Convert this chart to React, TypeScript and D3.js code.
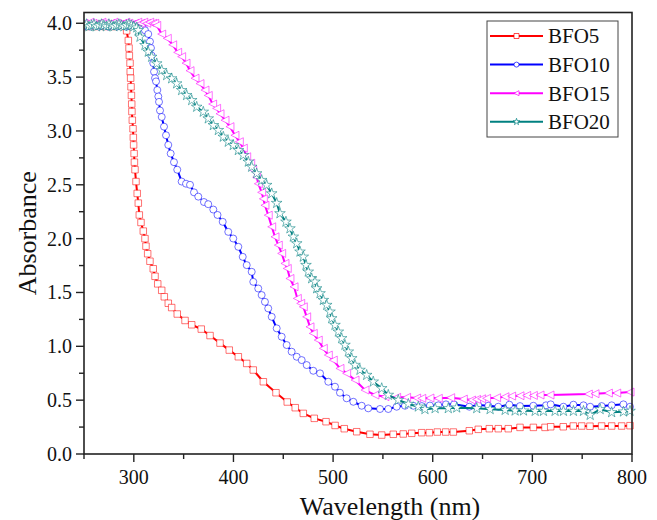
import React from 'react';
import * as d3 from 'd3';

// wavelength (nm), absorbance
const bfo5: [number, number][] = [
  [250, 3.98], [253, 3.97], [256, 3.99], [259, 3.98], [262, 3.97], [265, 3.99], [268, 3.98], [271, 3.97],
  [274, 3.99], [277, 3.98], [280, 3.97], [283, 3.98], [286, 3.99], [289, 3.98], [291, 3.97],
  [292.8, 3.93], [294.5, 3.84], [295.2, 3.77], [295.5, 3.7], [296.2, 3.63], [296.4, 3.55], [296.8, 3.49],
  [297.2, 3.41], [297.6, 3.33], [297.9, 3.25], [298.1, 3.18], [298.5, 3.1], [299.2, 3.02], [299.5, 2.94],
  [299.8, 2.87], [300.3, 2.79], [300.6, 2.71], [301.2, 2.64], [302.2, 2.53], [303.4, 2.42], [304.5, 2.33],
  [305.5, 2.22], [307.2, 2.15], [309.5, 2.07], [311.2, 2.0], [312.2, 1.93], [313.9, 1.86], [316.2, 1.79],
  [319.5, 1.72], [321.3, 1.65], [324, 1.58], [328, 1.52], [330.6, 1.46], [334.6, 1.4], [338, 1.36],
  [343.6, 1.3], [351.4, 1.24], [358.1, 1.2], [367.7, 1.16], [376.5, 1.1], [386.5, 1.03], [395.8, 0.965],
  [404.9, 0.903], [413.3, 0.841], [419.9, 0.78], [430, 0.671], [442.7, 0.569], [454, 0.483], [462, 0.43],
  [470.1, 0.377], [481.1, 0.331], [492.9, 0.3], [502, 0.265], [511.2, 0.235], [523.7, 0.207], [537, 0.183],
  [548.8, 0.176], [560.4, 0.183], [570.4, 0.186], [578.9, 0.192], [588.9, 0.198], [596.6, 0.198],
  [604.6, 0.204], [613, 0.204], [620.7, 0.204], [636.7, 0.216], [645.7, 0.229], [656.8, 0.235],
  [665.8, 0.235], [675.8, 0.235], [687.6, 0.247], [701, 0.247], [712.7, 0.247], [718.4, 0.253],
  [731, 0.253], [741.1, 0.26], [749.5, 0.26], [757.8, 0.258], [769.5, 0.26], [779.6, 0.26],
  [789.6, 0.26], [798, 0.263],
];

const bfo10: [number, number][] = [
  [250, 3.97], [253, 3.98], [256, 3.97], [259, 3.99], [262, 3.98], [265, 3.97], [268, 3.98], [271, 3.99],
  [274, 3.97], [277, 3.98], [280, 3.98], [283, 3.97], [286, 3.99], [289, 3.98], [292, 3.97], [295, 3.98],
  [298, 3.99], [301, 3.98], [304, 3.97], [307, 3.97], [309, 3.96],
  [311.2, 3.935], [314.5, 3.9], [316.2, 3.83], [317.2, 3.77], [317.9, 3.7], [319.5, 3.63], [320.3, 3.55],
  [321.3, 3.49], [322.3, 3.46], [323.6, 3.38], [324.6, 3.32], [325.3, 3.27], [326.3, 3.19], [328, 3.13],
  [330.3, 3.04], [332.3, 2.96], [334.6, 2.87], [337, 2.79], [340.3, 2.71], [343.6, 2.64], [348, 2.53],
  [352.4, 2.51], [356.4, 2.5], [360.4, 2.43], [364.7, 2.39], [370.4, 2.34], [374.7, 2.32], [379.8, 2.27],
  [384, 2.22], [389.2, 2.156], [394.8, 2.063], [399.8, 2.001], [404.9, 1.924], [409.3, 1.831],
  [413.3, 1.754], [418.3, 1.692], [419.9, 1.599], [424.9, 1.537], [428.3, 1.476], [431.6, 1.413],
  [434.9, 1.352], [438.4, 1.274], [443.4, 1.167], [448.4, 1.089], [453.4, 1.012], [458.4, 0.95],
  [463.5, 0.903], [468.5, 0.872], [473.5, 0.826], [480.1, 0.773], [486.9, 0.749], [495.2, 0.671],
  [501.9, 0.625], [506.9, 0.569], [513.6, 0.517], [520.3, 0.485], [528.7, 0.448], [535.3, 0.424],
  [547.1, 0.418], [555.4, 0.418], [563.8, 0.439], [572.2, 0.448], [580.5, 0.448], [589, 0.445],
  [597.2, 0.45], [605.6, 0.452], [613.3, 0.461], [621.4, 0.461], [636.7, 0.439], [645.7, 0.455],
  [655.8, 0.448], [665.8, 0.439], [676.9, 0.458], [687.6, 0.445], [701, 0.448], [713.7, 0.452],
  [718.4, 0.461], [731.2, 0.439], [741.2, 0.458], [751.3, 0.452], [758, 0.439], [769.5, 0.445],
  [779.6, 0.452], [791.4, 0.461], [798, 0.439],
];

const bfo15: [number, number][] = [
  [250, 4.0], [253, 3.99], [256, 4.01], [259, 4.0], [262, 3.99], [265, 4.0], [268, 4.01], [271, 4.0],
  [274, 3.99], [277, 4.0], [280, 4.01], [283, 4.0], [286, 3.99], [289, 4.0], [292, 4.01], [295, 4.0],
  [298, 3.99], [301, 4.0], [304, 4.01], [307, 4.0], [310, 4.01], [313, 4.0], [316, 4.01], [319, 4.0], [321, 4.0],
  [323, 3.98], [328, 3.9], [333.6, 3.86], [339, 3.8], [344, 3.73], [348, 3.69], [352.4, 3.63],
  [356.4, 3.56], [361.4, 3.49], [366.4, 3.44], [371.4, 3.38], [374.7, 3.33], [379.1, 3.25],
  [383.1, 3.21], [386.5, 3.16], [391.5, 3.1], [396.5, 3.04], [401.5, 2.96], [405.9, 2.9], [409.9, 2.84],
  [413.3, 2.76], [417.3, 2.7], [419.3, 2.64], [423.3, 2.57], [425, 2.51], [428.3, 2.43], [430, 2.37],
  [431.6, 2.31], [434.9, 2.218], [438.4, 2.11], [441.7, 2.017], [445, 1.94], [448.4, 1.863],
  [451.7, 1.77], [454, 1.723], [456.7, 1.63], [460.8, 1.553], [464.1, 1.445], [467.5, 1.399],
  [470.1, 1.367], [473.5, 1.274], [476.8, 1.181], [480.1, 1.12], [485.1, 1.058], [490.2, 0.981],
  [495.2, 0.919], [500.2, 0.872], [506.9, 0.795], [513.6, 0.749], [522, 0.687], [532, 0.594],
  [542, 0.548], [552.1, 0.532], [563.8, 0.526], [573.8, 0.526], [583.9, 0.52], [589, 0.517],
  [597.2, 0.52], [605.6, 0.517], [618, 0.523], [630.7, 0.51], [639, 0.501], [644, 0.507],
  [649.1, 0.513], [654.1, 0.517], [664.1, 0.523], [672.5, 0.532], [679.2, 0.538], [687.6, 0.541],
  [694.3, 0.544], [701, 0.544], [707.7, 0.548], [717.7, 0.548], [756.2, 0.557], [762.9, 0.56],
  [776.3, 0.566], [784.7, 0.566], [798, 0.575],
];

const bfo20: [number, number][] = [
  [250, 3.98], [252.5, 3.99], [255, 3.97], [257.5, 3.98], [260, 3.99], [262.5, 3.97], [265, 3.98],
  [267.5, 3.99], [270, 3.98], [272.5, 3.97], [275, 3.99], [277.5, 3.98], [280, 3.97], [282.5, 3.98],
  [285, 3.99], [287.5, 3.98], [290, 3.97], [292.5, 3.98], [295, 3.99], [297.5, 3.98], [300, 3.97], [303, 3.96],
  [304.5, 3.935], [306.2, 3.873], [311.2, 3.796], [314.5, 3.734], [317.9, 3.687], [323, 3.626],
  [328, 3.564], [333, 3.517], [338, 3.487], [343, 3.44], [348, 3.378], [353, 3.332], [358.1, 3.285],
  [363.1, 3.223], [369.7, 3.177], [374.7, 3.115], [379.8, 3.053], [384.8, 3.007], [389.8, 2.945],
  [394.8, 2.898], [399.8, 2.868], [404.9, 2.821], [409.9, 2.775], [414.9, 2.713], [418.3, 2.666],
  [423.3, 2.605], [428.3, 2.543], [433.3, 2.497], [438.4, 2.419], [443.4, 2.33], [446.7, 2.234],
  [452.7, 2.156], [456.7, 2.094], [460.1, 2.017], [463.5, 1.955], [466.8, 1.878], [470.1, 1.831],
  [472.8, 1.754], [475.1, 1.692], [478.5, 1.63], [481.8, 1.599], [483.5, 1.537], [486.9, 1.491],
  [490.2, 1.429], [493.6, 1.383], [496.9, 1.321], [498.6, 1.259], [501.9, 1.197], [505.3, 1.135],
  [508.6, 1.074], [511.9, 1.012], [515.3, 0.95], [518.7, 0.888], [522, 0.826], [527, 0.78],
  [533.7, 0.733], [540.3, 0.671], [548.8, 0.61], [555.4, 0.548], [565.4, 0.501], [575.5, 0.464],
  [585.5, 0.439], [592.2, 0.415], [602.4, 0.424], [615.6, 0.424], [624.1, 0.43], [644.2, 0.424],
  [657.6, 0.415], [672.7, 0.408], [682.7, 0.402], [691.1, 0.402], [702.8, 0.399], [711.1, 0.399],
  [722.8, 0.399], [731.2, 0.399], [741.2, 0.399], [751.3, 0.399], [758, 0.362], [768, 0.415],
  [779.6, 0.387], [791.4, 0.393], [798, 0.399],
];

const seriesNames = ['BFO5', 'BFO10', 'BFO15', 'BFO20'];
const seriesData = [bfo5, bfo10, bfo15, bfo20];
const seriesColors = ['#ff0000', '#0000ff', '#ff00ff', '#008080'];
const markerShapes = ['square', 'circle', 'triangleLeft', 'star'];

const xTickLabels = [300, 400, 500, 600, 700, 800];
const yTickLabels = [0, 0.5, 1, 1.5, 2, 2.5, 3, 3.5, 4];

const W = 657;
const H = 520;
const margin = { top: 12.5, right: 25, bottom: 66, left: 84 };
const font = '"Liberation Serif", "Times New Roman", serif';

const markerPath = (shape: string, s: number) => {
  if (shape === 'square') return d3.symbol(d3.symbolSquare, s * s)();
  if (shape === 'circle') return d3.symbol(d3.symbolCircle, Math.PI * (s / 2) * (s / 2))();
  if (shape === 'star') return d3.symbol(d3.symbolStar, s * s * 0.55)();
  const h = s / 2;
  return `M${-h},0L${h},${-h}L${h},${h}Z`;
};

const App = () => {
  const x = d3.scaleLinear().domain([250, 800]).range([margin.left, W - margin.right]);
  const y = d3.scaleLinear().domain([0, 4.1]).range([H - margin.bottom, margin.top]);
  const x0 = margin.left;
  const x1 = W - margin.right;
  const y0 = H - margin.bottom;
  const y1 = margin.top;

  const line = d3.line<[number, number]>().x(d => x(d[0])).y(d => y(d[1]));
  const xMinor = d3.range(250, 801, 50);
  const yMinor = d3.range(0, 4.01, 0.25);
  const sizes = [6.5, 7, 8, 8];

  const legendX = 487;
  const legendY = 21;

  return (
    <svg width={W} height={H} style={{ position: 'absolute', left: 0, top: 0, background: '#fff' }}>
      <defs>
        <clipPath id="plot">
          <rect x={x0} y={y1 - 4} width={x1 - x0 + 4} height={y0 - y1 + 4} />
        </clipPath>
      </defs>
      <rect width={W} height={H} fill="#fff" />
      <g clipPath="url(#plot)">
        {seriesData.map((data, i) => (
          <g key={seriesNames[i]}>
            <path d={line(data) || ''} fill="none" stroke={seriesColors[i]} strokeWidth={2} />
            {data.map((d, j) => (
              <path
                key={j}
                d={markerPath(markerShapes[i], sizes[i]) || ''}
                transform={`translate(${x(d[0])},${y(d[1])})`}
                fill="#fff"
                stroke={seriesColors[i]}
                strokeOpacity={0.55}
                strokeWidth={1}
              />
            ))}
          </g>
        ))}
      </g>

      {/* frame */}
      <rect x={x0} y={y1} width={x1 - x0} height={y0 - y1} fill="none" stroke="#222" strokeWidth={1.6} />

      {/* x ticks */}
      {xMinor.map(v => (
        <line key={v} x1={x(v)} x2={x(v)} y1={y0} y2={y0 + (v % 100 === 0 ? 8 : 5)} stroke="#222" strokeWidth={1.4} />
      ))}
      {xTickLabels.map(v => (
        <text key={v} x={x(v)} y={y0 + 30} textAnchor="middle" fontFamily={font} fontSize={20} fill="#111">
          {v}
        </text>
      ))}

      {/* y ticks */}
      {yMinor.map(v => (
        <line key={v} x1={x0} x2={x0 - (Math.round(v * 100) % 50 === 0 ? 8 : 5)} y1={y(v)} y2={y(v)} stroke="#222" strokeWidth={1.4} />
      ))}
      {yTickLabels.map(v => (
        <text key={v} x={x0 - 12} y={y(v)} dy="0.35em" textAnchor="end" fontFamily={font} fontSize={20} fill="#111">
          {v.toFixed(1)}
        </text>
      ))}

      <text x={390} y={515} textAnchor="middle" fontFamily={font} fontSize={26} fill="#111">
        Wavelength (nm)
      </text>
      <text
        transform={`translate(36,${(y0 + y1) / 2}) rotate(-90)`}
        textAnchor="middle"
        fontFamily={font}
        fontSize={26}
        fill="#111"
      >
        Absorbance
      </text>

      {/* legend */}
      <rect x={legendX} y={legendY} width={131} height={116} fill="#fff" stroke="#444" strokeWidth={1} />
      {seriesNames.map((name, i) => {
        const ly = 36 + i * 28.6;
        return (
          <g key={name}>
            <line x1={490} x2={543} y1={ly} y2={ly} stroke={seriesColors[i]} strokeWidth={2} />
            <path
              d={markerPath(markerShapes[i], 5) || ''}
              transform={`translate(516.5,${ly})`}
              fill="#fff"
              stroke={seriesColors[i]}
              strokeOpacity={0.7}
              strokeWidth={1}
            />
            <text x={548} y={ly} dy="0.35em" fontFamily={font} fontSize={21} fill="#111">
              {name}
            </text>
          </g>
        );
      })}
    </svg>
  );
};

export default App;
